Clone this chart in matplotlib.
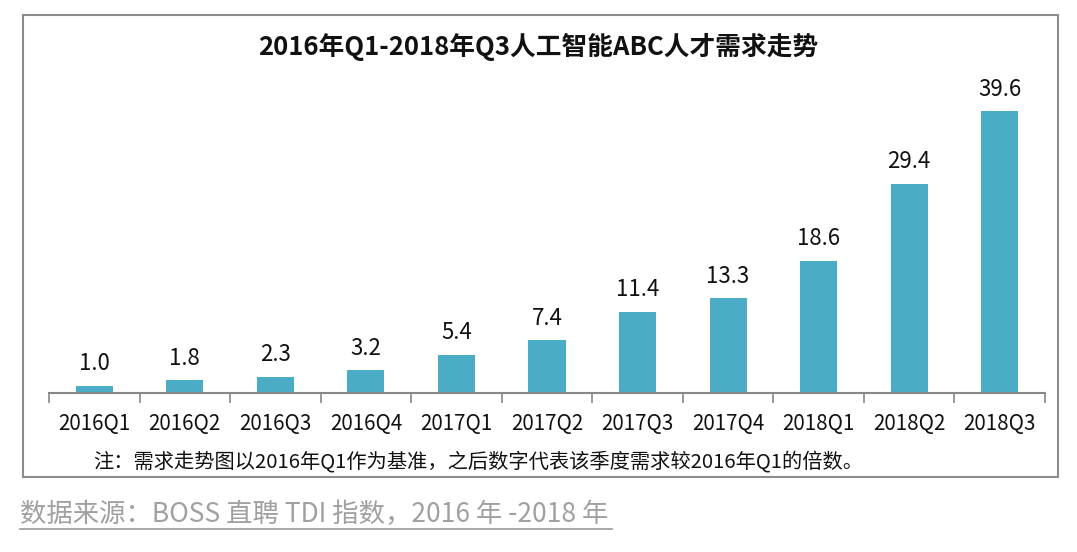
import matplotlib.pyplot as plt
from matplotlib.patches import Rectangle
from matplotlib.lines import Line2D

plt.rcParams['font.family'] = ['Noto Sans CJK SC', 'DejaVu Sans']

quarters = ['2016Q1', '2016Q2', '2016Q3', '2016Q4', '2017Q1', '2017Q2',
            '2017Q3', '2017Q4', '2018Q1', '2018Q2', '2018Q3']
demand = [1.0, 1.8, 2.3, 3.2, 5.4, 7.4, 11.4, 13.3, 18.6, 29.4, 39.6]

title = '2016年Q1-2018年Q3人工智能ABC人才需求走势'
note = '注：需求走势图以2016年Q1作为基准，之后数字代表该季度需求较2016年Q1的倍数。'
source = '数据来源：BOSS 直聘 TDI 指数，2016 年 -2018 年'

W, H = 1077, 552
fig = plt.figure(figsize=(W / 100, H / 100), dpi=100)

# outer frame of the chart
fig.patches.append(Rectangle((23 / W, 1 - 477 / H), (1058 - 23) / W, (477 - 15) / H,
                             transform=fig.transFigure, fill=False,
                             edgecolor='#8c8c8c', linewidth=1.5))

ax = fig.add_axes([49 / W, 1 - 393 / H, (1045 - 49) / W, (393 - 73) / H])
x = range(len(quarters))
bars = ax.bar(x, demand, width=0.41, color='#4bacc6')
for b, v in zip(bars, demand):
    ax.text(b.get_x() + b.get_width() / 2, v + 1.5, f'{v:.1f}',
            ha='center', va='bottom', fontsize=16, color='#111111')

ax.set_xlim(-0.5, len(quarters) - 0.5)
ax.set_ylim(0, 45)
ax.set_yticks([])
for s in ['top', 'right', 'left']:
    ax.spines[s].set_visible(False)
ax.spines['bottom'].set_color('#888888')
ax.spines['bottom'].set_linewidth(1.5)

# category labels centred, tick marks between categories
ax.set_xticks([i - 0.5 for i in range(len(quarters) + 1)])
ax.set_xticklabels([])
ax.tick_params(axis='x', length=7, width=1.2, color='#888888', direction='out')
for i, q in enumerate(quarters):
    ax.text(i, -31 / 7.1, q, ha='center', va='center', fontsize=14.8, color='#111111')

fig.text(0.5, 1 - 47 / H, title, ha='center', va='center',
         fontsize=18.5, fontweight='bold', color='#111111')
fig.text(93 / W, 1 - 462 / H, note, ha='left', va='center',
         fontsize=14.6, color='#111111')
fig.text(20 / W, 1 - 514 / H, source, ha='left', va='center',
         fontsize=19, style='italic', color='#a0a0a0')
fig.lines.append(Line2D([20 / W, 612 / W], [1 - 529 / H, 1 - 529 / H],
                        transform=fig.transFigure, color='#9a9a9a', linewidth=1.2))

fig.savefig('out.png', dpi=100)
